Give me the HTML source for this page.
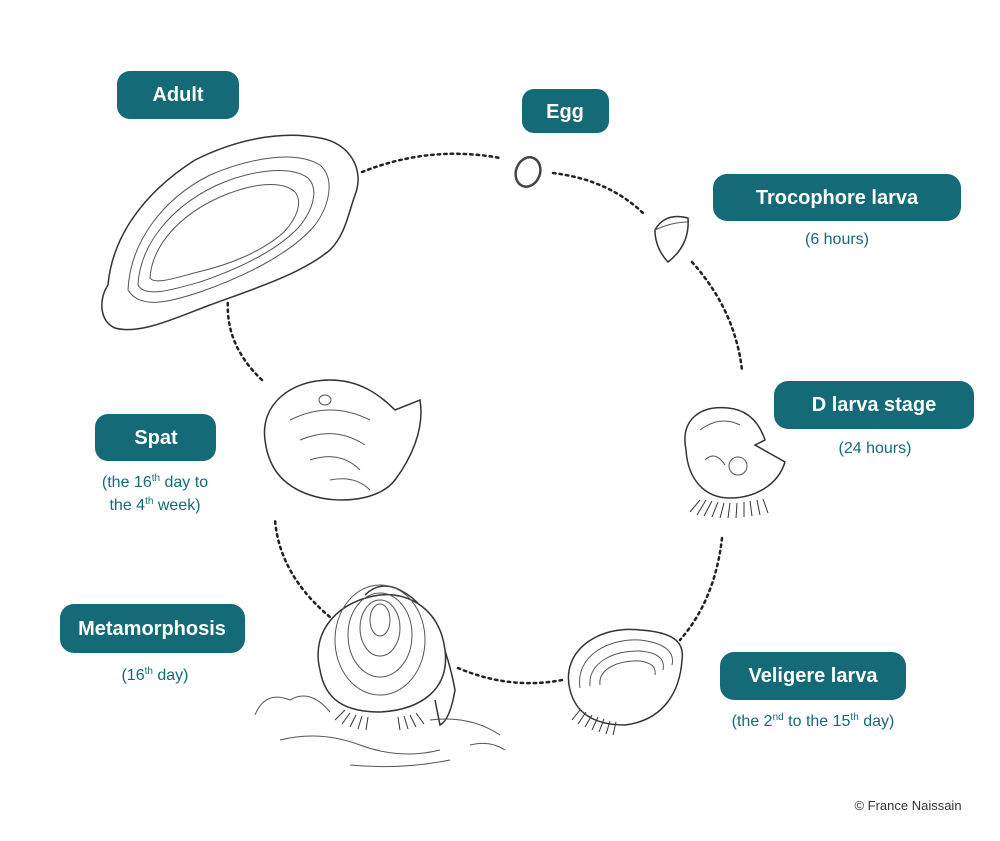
<!DOCTYPE html>
<html><head><style>
body{margin:0;background:#fff}
svg{display:block}
.l{fill:#156a78}
.t{fill:#fff;font-family:"Liberation Sans",sans-serif;font-weight:bold;font-size:20px;text-anchor:middle}
.s{fill:#156a78;font-family:"Liberation Sans",sans-serif;font-size:16px;text-anchor:middle}
.d{fill:none;stroke:#222;stroke-width:2.5;stroke-dasharray:2.5 4;stroke-linecap:round}
.o{fill:#fff;stroke:#333;stroke-width:1.5}
.i{fill:none;stroke:#555;stroke-width:1}
.b{fill:none;stroke:#333;stroke-width:1}
</style></head><body>
<svg width="1000" height="841" viewBox="0 0 1000 841">
<path class="d" d="M362,172 Q430,145 500,158"/>
<path class="d" d="M553,173 Q610,180 645,215"/>
<path class="d" d="M692,262 Q735,310 742,370"/>
<path class="d" d="M722,538 Q715,600 680,640"/>
<path class="d" d="M562,680 Q510,690 458,668"/>
<path class="d" d="M340,625 Q280,580 275,520"/>
<path class="d" d="M262,380 Q225,345 228,300"/>
<!-- adult -->
<path class="o" d="M108,285 C112,240 140,195 195,160 C235,140 280,130 320,138 C350,143 365,170 355,195 C348,215 345,235 330,250 C300,275 250,290 210,305 C175,318 140,335 115,328 C100,322 98,300 108,285Z"/>
<path class="i" d="M128,290 C130,245 160,200 210,175 C250,158 295,150 320,165 C335,178 330,205 315,225 C290,255 240,278 200,292 C170,302 140,310 128,290Z"/>
<path class="i" d="M138,285 C140,245 170,208 215,186 C250,170 290,165 308,178 C320,190 312,212 298,228 C275,252 235,270 200,282 C172,290 145,298 138,285Z"/>
<path class="i" d="M150,278 C152,245 180,215 220,197 C252,183 282,180 295,192 C303,202 297,218 284,232 C262,252 228,265 198,272 C175,278 155,285 150,278Z"/>
<!-- egg -->
<ellipse cx="528" cy="172" rx="12" ry="15" fill="none" stroke="#444" stroke-width="2.5" transform="rotate(20 528 172)"/>
<!-- trocophore -->
<path class="o" d="M655,230 Q665,212 688,218 Q690,245 668,262 Q655,248 655,230Z"/>
<path class="i" d="M655,230 Q672,222 688,222"/>
<!-- D larva -->
<path class="o" d="M686,450 C680,420 700,405 728,408 C750,410 760,425 765,440 L755,445 L785,462 C778,485 755,498 730,498 C705,498 688,480 686,450Z"/>
<path class="i" d="M700,430 Q720,415 740,425 M705,460 Q715,450 725,465"/>
<ellipse cx="738" cy="466" rx="9" ry="9" class="i"/>
<path class="b" d="M690,512 L700,500 M697,515 L706,500 M704,516 L712,501 M712,517 L718,502 M720,518 L724,503 M728,518 L730,503 M736,518 L737,503 M744,517 L744,502 M752,516 L750,501 M760,515 L757,500 M768,513 L763,499"/>
<!-- veligere -->
<path class="o" d="M570,690 C560,650 600,625 640,630 C670,632 685,640 682,660 C680,690 665,720 625,725 C590,725 575,710 570,690Z"/>
<path class="i" d="M580,688 C575,655 610,638 640,640 C665,643 675,652 672,665"/>
<path class="i" d="M590,686 C588,662 615,650 640,651 C660,653 665,660 663,670"/>
<path class="i" d="M600,685 C598,668 620,660 640,661 C653,663 656,668 655,675"/>
<path class="b" d="M572,720 L580,710 M578,724 L586,712 M585,727 L592,715 M592,730 L598,717 M599,732 L604,719 M606,734 L610,721 M613,735 L616,722"/>
<!-- metamorphosis -->
<path class="o" d="M365,595 Q380,580 400,590 Q440,610 455,690 Q450,720 440,725 L435,700"/>
<path class="o" d="M320,670 C310,630 340,600 380,595 C410,592 440,610 445,650 C450,690 420,710 380,712 C345,712 325,700 320,670Z"/>
<ellipse cx="380" cy="640" rx="45" ry="55" class="i"/>
<ellipse cx="380" cy="635" rx="32" ry="42" class="i"/>
<ellipse cx="380" cy="628" rx="20" ry="28" class="i"/>
<ellipse cx="380" cy="620" rx="10" ry="16" class="i"/>
<path class="b" d="M335,720 L345,710 M342,724 L350,713 M350,727 L356,715 M358,729 L362,716 M366,730 L368,717 M400,730 L398,717 M408,729 L404,716 M416,727 L410,715 M424,724 L416,713"/>
<path class="i" d="M255,715 Q265,690 290,700 Q310,688 330,712 M430,720 Q470,715 500,735 M280,740 Q320,730 360,745 Q400,760 440,750 M350,765 Q400,770 450,760 M470,745 Q490,740 505,750"/>
<!-- spat -->
<path class="o" d="M265,440 C260,405 290,380 330,380 C360,380 380,395 395,410 L420,400 C425,430 410,460 395,480 C380,500 340,505 310,495 C280,485 268,465 265,440Z"/>
<path class="i" d="M290,420 Q330,400 370,420 M300,440 Q335,425 365,445 M310,460 Q340,450 360,470 M330,480 Q355,475 370,490"/>
<ellipse cx="325" cy="400" rx="6" ry="5" class="i"/>
<!-- labels -->
<rect class="l" x="117" y="71" width="122" height="48" rx="13"/><text class="t" x="178" y="101">Adult</text>
<rect class="l" x="522" y="89" width="87" height="44" rx="12"/><text class="t" x="565" y="118">Egg</text>
<rect class="l" x="713" y="174" width="248" height="47" rx="14"/><text class="t" x="837" y="204">Trocophore larva</text>
<text class="s" x="837" y="244">(6 hours)</text>
<rect class="l" x="774" y="381" width="200" height="48" rx="14"/><text class="t" x="874" y="411">D larva stage</text>
<text class="s" x="875" y="453">(24 hours)</text>
<rect class="l" x="95" y="414" width="121" height="47" rx="13"/><text class="t" x="156" y="444">Spat</text>
<text class="s" x="155" y="487">(the 16<tspan font-size="10" dy="-6">th</tspan><tspan dy="6"> day to</tspan></text>
<text class="s" x="155" y="510">the 4<tspan font-size="10" dy="-6">th</tspan><tspan dy="6"> week)</tspan></text>
<rect class="l" x="60" y="604" width="185" height="49" rx="14"/><text class="t" x="152" y="635">Metamorphosis</text>
<text class="s" x="155" y="680">(16<tspan font-size="10" dy="-6">th</tspan><tspan dy="6"> day)</tspan></text>
<rect class="l" x="720" y="652" width="186" height="48" rx="14"/><text class="t" x="813" y="682">Veligere larva</text>
<text class="s" x="813" y="726">(the 2<tspan font-size="10" dy="-6">nd</tspan><tspan dy="6"> to the 15</tspan><tspan font-size="10" dy="-6">th</tspan><tspan dy="6"> day)</tspan></text>
<text x="908" y="810" style="font-family:'Liberation Sans',sans-serif;font-size:13px;fill:#333;text-anchor:middle">© France Naissain</text>
</svg>
</body></html>
